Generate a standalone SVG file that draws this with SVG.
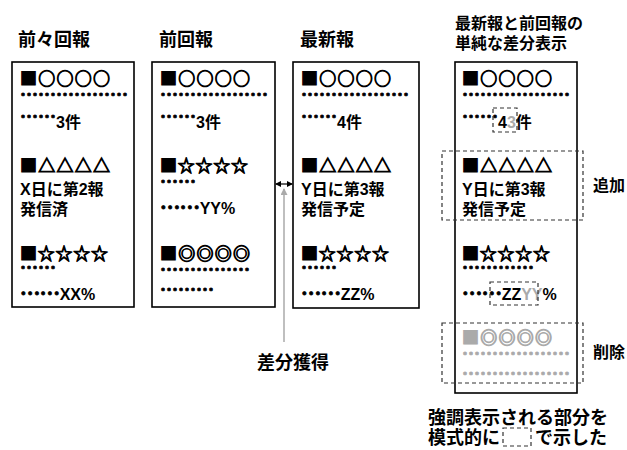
<svg xmlns="http://www.w3.org/2000/svg" width="627" height="450" viewBox="0 0 627 450">
<style>
.box{fill:#fff;stroke:#000;stroke-width:1.6}
.dash{fill:none;stroke:#333;stroke-width:1.2;stroke-dasharray:4 3}
.t{font-family:"Noto Sans CJK JP",sans-serif;font-weight:bold;font-size:16px;fill:#000}
.h{font-size:18px}
.s{font-size:17px;stroke:#000;stroke-width:1}
.d{font-size:18px;stroke:#000;stroke-width:0.8}
.l{font-family:"Liberation Sans","Noto Sans CJK JP",sans-serif}
.g{fill:#aaa;stroke:#aaa}
.gf{fill:#aaa}
</style>
<defs>
<marker id="ab" markerWidth="6" markerHeight="6" refX="5" refY="3" orient="auto-start-reverse" markerUnits="userSpaceOnUse"><path d="M0,0 L6,3 L0,6 z" fill="#000"/></marker>
<marker id="ag" markerWidth="7" markerHeight="7" refX="6" refY="3.5" orient="auto" markerUnits="userSpaceOnUse"><path d="M0,0 L7,3.5 L0,7 z" fill="#aaa"/></marker>
</defs>

<g id="title1"><text class="t h" x="18" y="46">前々回報</text></g>
<g id="title2"><text class="t h" x="159" y="46">前回報</text></g>
<g id="title3"><text class="t h" x="300" y="46">最新報</text></g>
<g id="title4"><text class="t" x="455" y="29">最新報と前回報の</text><text class="t" x="455" y="49">単純な差分表示</text></g>

<g id="box1">
<rect class="box" x="12" y="62" width="122" height="245"/>
<text class="t s" x="20" y="85" textLength="90">■○○○○</text>
<text class="t d" x="20" y="101">………………</text>
<text class="t" x="20" y="128"><tspan class="d" dy="-5">……</tspan><tspan class="l" dy="5">3</tspan>件</text>
<text class="t s" x="20" y="172" textLength="90">■△△△△</text>
<text class="t" x="20" y="195"><tspan class="l">X</tspan>日に第<tspan class="l">2</tspan>報</text>
<text class="t" x="20" y="215">発信済</text>
<text class="t s" x="20" y="260" textLength="88">■☆☆☆☆</text>
<text class="t d" x="20" y="274">……</text>
<text class="t" x="20" y="300"><tspan class="d" dy="-5">……</tspan><tspan class="l" dy="5">XX%</tspan></text>
</g>

<g id="box2">
<rect class="box" x="152" y="62" width="123" height="245"/>
<text class="t s" x="160" y="85" textLength="90">■○○○○</text>
<text class="t d" x="160" y="101">………………</text>
<text class="t" x="160" y="128"><tspan class="d" dy="-5">……</tspan><tspan class="l" dy="5">3</tspan>件</text>
<text class="t s" x="160" y="172" textLength="88">■☆☆☆☆</text>
<text class="t d" x="160" y="188">……</text>
<text class="t" x="160" y="214"><tspan class="d" dy="-5">……</tspan><tspan class="l" dy="5">YY%</tspan></text>
<text class="t s" x="160" y="260" textLength="90">■◎◎◎◎</text>
<text class="t d" x="160" y="276">……………</text>
<text class="t d" x="160" y="296">………</text>
</g>

<g id="box3">
<rect class="box" x="293" y="62" width="126" height="246"/>
<text class="t s" x="301" y="85" textLength="90">■○○○○</text>
<text class="t d" x="301" y="101">………………</text>
<text class="t" x="301" y="128"><tspan class="d" dy="-5">……</tspan><tspan class="l" dy="5">4</tspan>件</text>
<text class="t s" x="301" y="172" textLength="90">■△△△△</text>
<text class="t" x="301" y="195"><tspan class="l">Y</tspan>日に第<tspan class="l">3</tspan>報</text>
<text class="t" x="301" y="215">発信予定</text>
<text class="t s" x="301" y="260" textLength="88">■☆☆☆☆</text>
<text class="t d" x="301" y="274">……</text>
<text class="t" x="301" y="300"><tspan class="d" dy="-5">……</tspan><tspan class="l" dy="5">ZZ%</tspan></text>
</g>

<g id="box4">
<rect class="box" x="455" y="62" width="122" height="331"/>
<text class="t s" x="462" y="85" textLength="90">■○○○○</text>
<text class="t d" x="462" y="101">………………</text>
<text class="t" x="462" y="128"><tspan class="d" dy="-5">……</tspan><tspan class="l" dy="5">4</tspan><tspan class="l gf">3</tspan>件</text>
<rect class="dash" x="493" y="108" width="24" height="24"/>
<text class="t s" x="462" y="172" textLength="90">■△△△△</text>
<text class="t" x="462" y="195"><tspan class="l">Y</tspan>日に第<tspan class="l">3</tspan>報</text>
<text class="t" x="462" y="215">発信予定</text>
<text class="t s" x="462" y="260" textLength="88">■☆☆☆☆</text>
<text class="t d" x="462" y="274">…………</text>
<text class="t" x="462" y="300"><tspan class="d" dy="-5">……</tspan><tspan class="l" dy="5">ZZ</tspan><tspan class="l gf">YY</tspan><tspan class="l">%</tspan></text>
<rect class="dash" x="490" y="282" width="48" height="23"/>
<text class="t s g" x="462" y="344" textLength="90">■◎◎◎◎</text>
<text class="t d g" x="462" y="360">………………</text>
<text class="t d g" x="462" y="380">………………</text>
</g>

<g id="added">
<rect class="dash" x="442" y="151" width="141" height="69"/>
<text class="t" x="593" y="191">追加</text>
</g>
<g id="deleted">
<rect class="dash" x="442" y="323" width="141" height="60"/>
<text class="t" x="593" y="358">削除</text>
</g>

<g id="diff-label"><text class="t h" x="257" y="369">差分獲得</text></g>

<g id="legend">
<text class="t h" x="428" y="424">強調表示される部分を</text>
<text class="t h" x="428" y="444">模式的に</text>
<rect class="dash" x="503" y="428" width="28" height="18"/>
<text class="t h" x="535" y="444">で示した</text>
</g>

<g id="connectors">
<line x1="276" y1="184" x2="292" y2="184" stroke="#000" stroke-width="1.2" marker-start="url(#ab)" marker-end="url(#ab)"/>
<line x1="284" y1="342" x2="284" y2="189" stroke="#aaa" stroke-width="1.5" marker-end="url(#ag)"/>
</g>
</svg>
